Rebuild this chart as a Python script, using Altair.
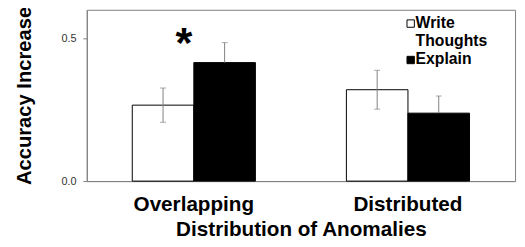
import altair as alt
import pandas as pd

# ---- data ----
groups = ["Overlapping", "Distributed"]
conditions = ["Write Thoughts", "Explain"]
means_write = [0.266, 0.320]
means_explain = [0.415, 0.238]
err_write = [0.060, 0.068]
err_explain = [0.070, 0.060]
y_ticks = [0.0, 0.5]
star_groups = ["Overlapping"]
star_y = [0.435]
legend_text = ["Write\nThoughts", "Explain"]

FONT = "Liberation Sans"
GRAY = "#808080"

rows = []
for i, g in enumerate(groups):
    rows.append(dict(group=g, cond=conditions[0], mean=means_write[i], err=err_write[i]))
    rows.append(dict(group=g, cond=conditions[1], mean=means_explain[i], err=err_explain[i]))
df = pd.DataFrame(rows)
star_df = pd.DataFrame({"group": star_groups, "y": star_y, "t": ["*"] * len(star_groups)})

yscale = alt.Scale(domain=[0, 0.6], nice=False)
x_enc = alt.X(
    "group:N", sort=groups,
    scale=alt.Scale(paddingInner=0.425, paddingOuter=0.2125),
    axis=alt.Axis(
        title="Distribution of Anomalies", labelAngle=0, ticks=False,
        labelFontSize=21, labelFontWeight="bold", labelColor="black", labelFont=FONT,
        labelPadding=13, domainColor=GRAY,
        titleFontSize=21, titleFontWeight="bold", titleColor="black", titleFont=FONT,
        titlePadding=4,
    ),
)
xo_enc = alt.XOffset("cond:N", sort=conditions, scale=alt.Scale(paddingInner=0, paddingOuter=0))
fill_enc = alt.Fill("cond:N", scale=alt.Scale(domain=conditions, range=["white", "black"]), legend=None)

base = alt.Chart(df)

bars = base.mark_bar(stroke="black", strokeWidth=1).encode(
    x=x_enc, xOffset=xo_enc,
    y=alt.Y("mean:Q", scale=yscale, axis=alt.Axis(
        title="Accuracy Increase", values=y_ticks, format=".1f", grid=False,
        labelFontSize=11, labelColor="#333333", labelFont=FONT, labelPadding=7,
        tickSize=4, tickColor=GRAY, domainColor=GRAY,
        titleFontSize=20.5, titleFontWeight="bold", titleColor="black", titleFont=FONT,
        titlePadding=27,
    )),
    fill=fill_enc,
)

err_base = base.transform_calculate(
    hi="datum.mean + datum.err",
    lo="datum.cond == 'Explain' ? datum.mean : datum.mean - datum.err",
)
rules = err_base.mark_rule(color=GRAY, strokeWidth=1).encode(
    x=alt.X("group:N", sort=groups), xOffset=xo_enc,
    y=alt.Y("lo:Q", scale=yscale), y2="hi:Q",
)
caps_hi = err_base.mark_tick(color=GRAY, thickness=1, size=6, orient="horizontal").encode(
    x=alt.X("group:N", sort=groups), xOffset=xo_enc,
    y=alt.Y("hi:Q", scale=yscale),
)
caps_lo = err_base.transform_filter("datum.cond != 'Explain'").mark_tick(
    color=GRAY, thickness=1, size=6, orient="horizontal").encode(
    x=alt.X("group:N", sort=groups), xOffset=xo_enc,
    y=alt.Y("lo:Q", scale=yscale),
)

star = alt.Chart(star_df).mark_text(
    font=FONT, fontSize=44, fontWeight="bold", align="center", baseline="alphabetic", dx=-10,
).encode(x=alt.X("group:N", sort=groups), y=alt.Y("y:Q", scale=yscale), text="t:N")

# legend (inside, top right)
leg_sym_y = [14, 51]
leg_txt_y = [18.7, 54.7]
leg_layers = []
for i, c in enumerate(conditions):
    sym = alt.Chart(pd.DataFrame({"cond": [c]})).mark_square(
        size=56, stroke="black", strokeWidth=1, opacity=1
    ).encode(x=alt.value(329), y=alt.value(leg_sym_y[i]), fill=fill_enc)
    txt = alt.Chart(pd.DataFrame({"t": [legend_text[i]]})).mark_text(
        font=FONT, fontSize=16, fontWeight="bold", align="left", baseline="alphabetic",
        lineBreak="\n", lineHeight=18.3, color="black",
    ).encode(x=alt.value(334), y=alt.value(leg_txt_y[i]), text="t:N")
    leg_layers += [sym, txt]

chart = alt.layer(bars, rules, caps_hi, caps_lo, star, *leg_layers).properties(
    width=435, height=174,
    autosize=alt.AutoSizeParams(type="none"),
    padding={"left": 80, "top": 0, "right": 2, "bottom": 57},
).configure_view(stroke=GRAY, strokeWidth=1)

chart.save("out.html", embed_options={"renderer": "svg", "actions": False})
